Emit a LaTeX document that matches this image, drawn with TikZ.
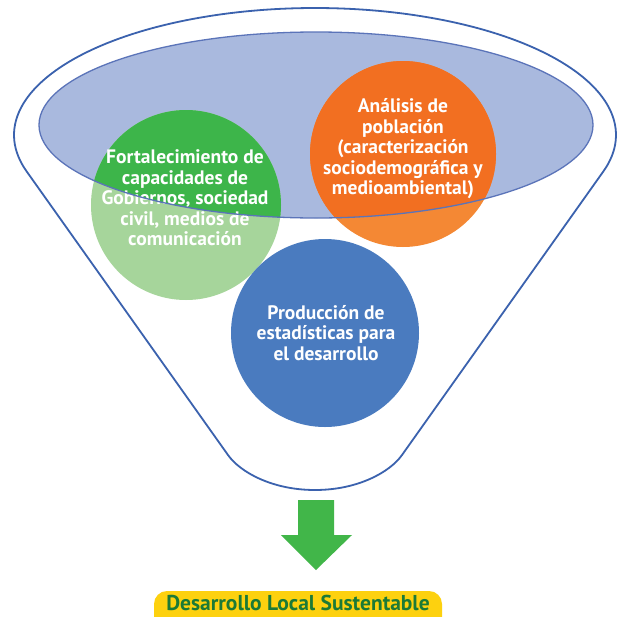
\documentclass[tikz,border=0pt]{standalone}
\usepackage{fontspec}
\setmainfont{PT Sans}
\definecolor{funnel}{HTML}{3B62AE}
\definecolor{ellfill}{HTML}{A9B9DE}
\definecolor{elldraw}{HTML}{5B74B9}
\definecolor{greenD}{HTML}{3DB54A}
\definecolor{greenL}{HTML}{A6D59B}
\definecolor{orangeD}{HTML}{F26F21}
\definecolor{orangeL}{HTML}{F48834}
\definecolor{blueC}{HTML}{4A7BBF}
\definecolor{arrowG}{HTML}{41B649}
\definecolor{labelY}{HTML}{FDD10F}
\definecolor{labelT}{HTML}{1C7A36}
\tikzset{
  circtxt/.style={text=white, align=center, font=\bfseries\fontsize{19.5}{20.5}\selectfont, inner sep=0pt},
}
\begin{document}
\begin{tikzpicture}[x=1pt,y=-1pt]
\useasboundingbox (0,0) rectangle (618,616);
\clip (0,0) rectangle (618,616);
\fill[white] (0,0) rectangle (618,616);
% funnel outline
\draw[funnel, line width=1.8pt, line join=round]
  (228,455) -- plot[domain=163.3:376.7, samples=120, smooth] ({315+301*cos(\x)}, {135+127*sin(\x)})
  -- (402,455) .. controls (390,472) and (358,490) .. (315,490)
  .. controls (272,490) and (240,472) .. (228,455) -- cycle;
% inner ellipse fill
\fill[ellfill] (316,125) ellipse[x radius=277pt, y radius=93pt];
% circles (outside parts)
\fill[greenL] (186,205) circle[radius=95pt];
\fill[orangeL] (403,154) circle[radius=93pt];
\fill[blueC] (325,333) circle[radius=94pt];
% circles inside ellipse
\begin{scope}
  \clip (316,125) ellipse[x radius=277pt, y radius=93pt];
  \fill[greenD] (186,205) circle[radius=95pt];
  \fill[orangeD] (403,154) circle[radius=93pt];
\end{scope}
% texts
\node[circtxt] (green) at (185,198) {Fortalecimiento de\\capacidades de\\Gobiernos, sociedad\\civil, medios de\\comunicación};
\node[circtxt] (orange) at (403,149) {Análisis de\\población\\(caracterización\\sociodemográfica y\\medioambiental)};
\node[circtxt] (blue) at (326,333) {Producción de\\estadísticas para\\el desarrollo};
% ellipse outline on top
\draw[elldraw, line width=1.3pt] (316,125) ellipse[x radius=277pt, y radius=93pt];
% arrow
\fill[arrowG] (298,500) -- (334,500) -- (334,535) -- (352,535) -- (316,570) -- (281,535) -- (298,535) -- cycle;
% label
\fill[labelY, rounded corners=13pt] (154,591) rectangle (442,640);
\node[anchor=base, text=labelT, font=\bfseries\fontsize{21.5}{23}\selectfont, inner sep=0pt] (label) at (298,610) {Desarrollo Local Sustentable};
\end{tikzpicture}
\end{document}
